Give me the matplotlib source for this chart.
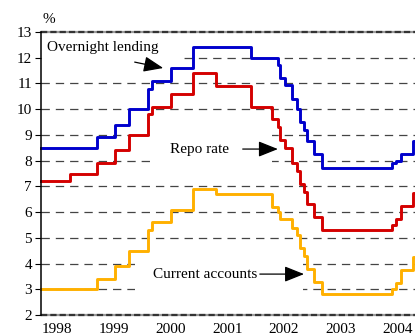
import numpy as np
import pandas as pd
import matplotlib
matplotlib.use('Agg')
import matplotlib.pyplot as plt
import matplotlib.dates as mdates
from matplotlib.patches import Rectangle

plt.rcParams['font.family'] = ['Liberation Serif', 'DejaVu Serif']
plt.rcParams['font.size'] = 11
plt.rcParams['lines.scale_dashes'] = False

# policy rates, step changes (date of change, new level in %)
lending_dates = ['1998-03-22', '1999-03-20', '1999-07-09', '1999-10-08', '2000-02-06',
                 '2000-03-02', '2000-07-05', '2000-11-21', '2001-11-28', '2002-05-22',
                 '2002-06-06', '2002-07-05', '2002-08-18', '2002-09-20', '2002-10-08',
                 '2002-11-06', '2002-11-25', '2003-01-07', '2003-02-27', '2004-05-22',
                 '2004-06-20', '2004-07-23', '2004-10-04']
lending = [8.5, 8.9, 9.4, 10.0, 10.8, 11.1, 11.6, 12.4, 12.0, 11.7, 11.2, 10.95,
           10.4, 10.0, 9.5, 9.2, 8.75, 8.25, 7.7, 7.9, 8.0, 8.25, 8.75]

repo_dates = ['1998-03-22', '1998-09-23', '1999-03-20', '1999-07-09', '1999-10-08',
              '2000-02-06', '2000-03-02', '2000-07-05', '2000-11-21', '2001-04-20',
              '2001-11-28', '2002-04-12', '2002-05-22', '2002-06-06', '2002-07-05',
              '2002-08-18', '2002-09-20', '2002-10-08', '2002-11-06', '2002-11-25',
              '2003-01-07', '2003-02-27', '2004-05-22', '2004-06-20', '2004-07-23',
              '2004-10-04']
repo = [7.2, 7.5, 7.9, 8.4, 9.0, 9.8, 10.1, 10.6, 11.4, 10.9, 10.1, 9.6, 9.3, 8.8,
        8.5, 7.9, 7.6, 7.1, 6.8, 6.3, 5.8, 5.3, 5.5, 5.75, 6.25, 6.75]

accounts_dates = ['1998-03-22', '1999-03-20', '1999-07-09', '1999-10-08', '2000-02-06',
                  '2000-03-02', '2000-07-05', '2000-11-21', '2001-04-20', '2002-04-12',
                  '2002-05-22', '2002-06-06', '2002-08-18', '2002-09-20', '2002-10-08',
                  '2002-11-06', '2002-11-25', '2003-01-07', '2003-02-27', '2004-05-22',
                  '2004-06-20', '2004-07-23', '2004-10-04']
accounts = [3.0, 3.4, 3.9, 4.5, 5.3, 5.6, 6.1, 6.9, 6.7, 6.2, 6.0, 5.75, 5.4, 5.1,
            4.6, 4.3, 3.8, 3.3, 2.8, 3.0, 3.25, 3.75, 4.25]

start_date, end_date = '1998-03-22', '2004-10-19'
years = [1998, 1999, 2000, 2001, 2002, 2003, 2004]
yticks = list(range(2, 14))


def d(s):
    return mdates.date2num(pd.Timestamp(s))


def step_xy(dates, vals):
    x = [d(s) for s in dates] + [d(end_date)]
    y = list(vals) + [vals[-1]]
    return x, y


fig = plt.figure(figsize=(4.15, 3.35), dpi=100)
ax = fig.add_axes([41 / 415, 20 / 335, 374 / 415, 283 / 335])

# dashed grid
for v in yticks[1:-1]:
    ax.axhline(v, color='#444444', lw=0.9, dashes=(6.0, 4.3), zorder=1)
for v in (yticks[0], yticks[-1]):
    ax.axhline(v, color='#9a9a9a', lw=1.6, zorder=1, clip_on=False)
    ax.axhline(v, color='#333333', lw=1.6, dashes=(4.5, 2.2), zorder=1, clip_on=False)

# white boxes behind the labels
for x0, x1, y0, y1 in [('1998-03-22', '2000-08-29', 11.52, 12.77),
                       ('2000-03-10', '2002-04-12', 7.6, 9.6),
                       ('1999-11-14', '2002-10-30', 2.6, 4.5)]:
    ax.add_patch(Rectangle((d(x0), y0), d(x1) - d(x0), y1 - y0,
                           facecolor='white', edgecolor='none', zorder=1.5))

for dates, vals, col in [(lending_dates, lending, '#0000cc'),
                         (repo_dates, repo, '#d40000'),
                         (accounts_dates, accounts, '#ffb000')]:
    x, y = step_xy(dates, vals)
    ax.step(x, y, where='post', color=col, lw=2.1, zorder=3, clip_on=False)

arrow = dict(arrowstyle='-|>,head_length=0.6,head_width=0.24', color='black',
             lw=0.9, mutation_scale=20, shrinkA=0, shrinkB=0)
ax.text(d('1998-04-27'), 12.38, 'Overnight lending', ha='left', va='center', zorder=4)
ax.annotate('', xy=(d('2000-05-15'), 11.6), xytext=(d('1999-11-14'), 11.83),
            arrowprops=arrow, zorder=4)
ax.text(d('2000-06-28'), 8.45, 'Repo rate', ha='left', va='center', zorder=4)
ax.annotate('', xy=(d('2002-05-22'), 8.45), xytext=(d('2001-10-08'), 8.45),
            arrowprops=arrow, zorder=4)
ax.text(d('2000-03-10'), 3.59, 'Current accounts', ha='left', va='center', zorder=4)
ax.annotate('', xy=(d('2002-11-06'), 3.59), xytext=(d('2002-01-26'), 3.59),
            arrowprops=arrow, zorder=4)

ax.set_xlim(d(start_date), d(end_date))
ax.set_ylim(2, 13)
ax.set_yticks(yticks)
ax.set_xticks([d(f'{y}-07-01') for y in years])
ax.set_xticklabels([str(y) for y in years])
ax.tick_params(axis='y', direction='out', length=4.5, width=0.8, pad=2, labelsize=11)
ax.tick_params(axis='x', length=0, pad=5.5, labelsize=11)
for s in ('top', 'right', 'bottom'):
    ax.spines[s].set_visible(False)
ax.spines['left'].set_linewidth(1.1)
ax.spines['left'].set_zorder(5)
ax.text(0.005, 1.045, '%', transform=ax.transAxes, ha='left', va='center')

fig.savefig('out.png', dpi=100)
